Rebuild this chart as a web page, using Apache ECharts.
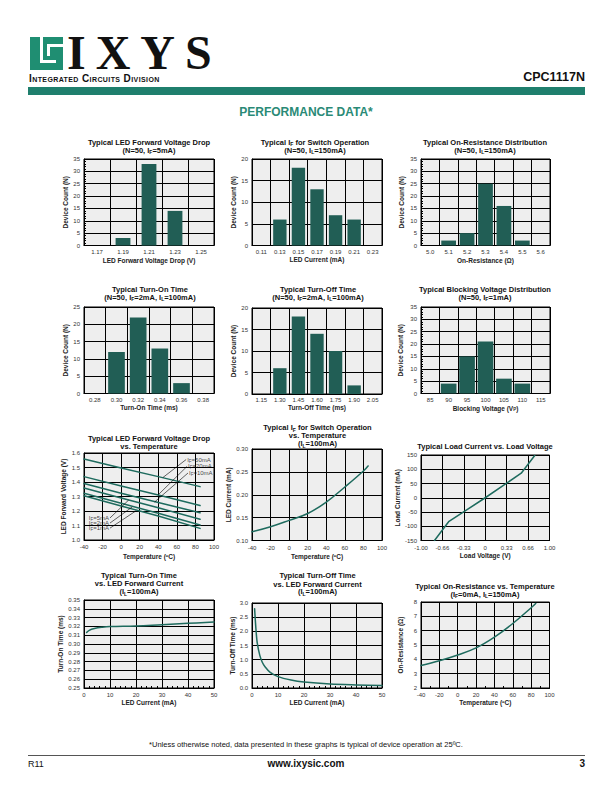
<!DOCTYPE html>
<html><head><meta charset="utf-8">
<script src="https://cdn.jsdelivr.net/npm/echarts@6/dist/echarts.min.js"></script>
<style>
body{margin:0;background:#fff;}
#page{position:relative;width:612px;height:792px;overflow:hidden;font-family:'Liberation Sans',Arial,Helvetica,sans-serif;color:#111;}
#chart{position:absolute;left:0;top:0;width:612px;height:792px;}
.abs{position:absolute;white-space:nowrap;}
</style></head><body>
<div id="page">
<div id="chart"></div>
<div class="abs" style="left:30px;top:37px;width:33px;height:33px;background:#1f8e72;"></div>
<div class="abs" style="left:40px;top:37px;width:3px;height:26px;background:#fff;"></div>
<div class="abs" style="left:40px;top:60px;width:16px;height:3px;background:#fff;"></div>
<div class="abs" style="left:47px;top:44px;width:16px;height:3px;background:#fff;"></div>
<div class="abs" style="left:47px;top:44px;width:3px;height:12px;background:#fff;"></div>
<div class="abs" style="left:67px;top:36px;height:34px;line-height:34px;font:bold 48px/34px 'Liberation Serif','Times New Roman',serif;letter-spacing:10px;color:#111;">IXYS</div>
<div class="abs" style="left:29px;top:73px;font:bold 10px 'Liberation Sans',Arial,sans-serif;font-variant:small-caps;letter-spacing:0.4px;">Integrated Circuits Division</div>
<div class="abs" style="right:27px;top:70px;font:bold 12.5px 'Liberation Sans',Arial,sans-serif;">CPC1117N</div>
<div class="abs" style="left:28px;top:87px;width:557px;height:8px;background:#1f7f6d;"></div>
<div class="abs" style="left:0;width:612px;text-align:center;top:105px;font:bold 12px 'Liberation Sans',Arial,sans-serif;color:#2a8a76;">PERFORMANCE DATA*</div>
<div class="abs" style="left:0;width:612px;text-align:center;top:740px;font:7.5px 'Liberation Sans',Arial,sans-serif;">*Unless otherwise noted, data presented in these graphs is typical of device operation at 25ºC.</div>
<div class="abs" style="left:28px;top:755px;width:557px;height:1px;background:#555;"></div>
<div class="abs" style="left:28px;top:759px;font:9px 'Liberation Sans',Arial,sans-serif;">R11</div>
<div class="abs" style="left:0;width:612px;text-align:center;top:758px;font:bold 10px 'Liberation Sans',Arial,sans-serif;">www.ixysic.com</div>
<div class="abs" style="right:27px;top:758px;font:bold 10px 'Liberation Sans',Arial,sans-serif;">3</div>
</div>
<script>
// ---------- data ----------
const h1Cats = ['1.17','1.19','1.21','1.23','1.25'];
const h1Vals = [0,3,33,14,0];
const h2Cats = ['0.11','0.13','0.15','0.17','0.19','0.21','0.23'];
const h2Vals = [0,6,18,13,7,6,0];
const h3Cats = ['5.0','5.1','5.2','5.3','5.4','5.5','5.6'];
const h3Vals = [0,2,5,25,16,2,0];
const h4Cats = ['0.28','0.30','0.32','0.34','0.36','0.38'];
const h4Vals = [0,12,22,13,3,0];
const h5Cats = ['1.15','1.30','1.45','1.60','1.75','1.90','2.05'];
const h5Vals = [0,6,18,14,10,2,0];
const h6Cats = ['85','90','95','100','105','110','115'];
const h6Vals = [0,4,15,21,6,4,0];

const vfTemp = [-40, 0, 40, 85];
const vf50mA = [1.558, 1.497, 1.437, 1.368];
const vf20mA = [1.437, 1.373, 1.310, 1.238];
const vf10mA = [1.390, 1.323, 1.258, 1.188];
const vf5mA  = [1.358, 1.290, 1.222, 1.143];
const vf2mA  = [1.323, 1.253, 1.184, 1.103];
const vf1mA  = [1.305, 1.235, 1.165, 1.080];
const vfLabelNames = ['50mA','20mA','10mA','5mA','2mA','1mA'];
const vfLabelAt = [[70,1.555],[71,1.508],[72,1.462],[-12,1.152],[-12,1.117],[-12,1.082]];
const vfLeaderTo = [[45,1.431],[40,1.312],[36,1.262],[8,1.275],[12,1.228],[16,1.201]];

const ifTemp = [-40,-20,0,20,40,60,80,85];
const ifVals = [0.119,0.13,0.144,0.159,0.184,0.217,0.252,0.263];

const loadV = [-0.79,-0.57,0,0.56,0.77];
const loadI = [-150,-84,0,86,148];
const loadVTicks = ['-1.00','-0.66','-0.33','0','0.33','0.66','1.00'];

const tonIf = [1,2,4,7,10,20,30,40,50];
const tonVals = [0.313,0.3155,0.3175,0.319,0.3198,0.3205,0.322,0.3235,0.325];

const toffIf = [1,1.5,2,3,4,5,7,10,15,20,30,40,50];
const toffVals = [2.8,2.1,1.6,1.15,0.9,0.75,0.55,0.4,0.28,0.21,0.14,0.11,0.09];

const ronTemp = [-40,-20,0,20,40,60,80,85];
const ronVals = [3.57,3.9,4.3,4.8,5.55,6.5,7.6,7.9];

// ---------- styling ----------
const FONT = "'Liberation Sans', Arial, Helvetica, sans-serif";
const BAR = '#215e55';
const LINE = '#1e6b5e';
const PLOTBG = '#eeeeee';
const RICH = {
  b:{fontSize:7.5,fontWeight:'bold',fontFamily:FONT,color:'#111',lineHeight:9},
  s:{fontSize:5,fontWeight:'bold',fontFamily:FONT,color:'#111',verticalAlign:'bottom',lineHeight:5},
  n:{fontSize:6,fontFamily:FONT,color:'#111',lineHeight:8},
  ns:{fontSize:4.5,fontFamily:FONT,color:'#111',verticalAlign:'bottom',lineHeight:4},
  a:{fontSize:6.5,fontWeight:'bold',fontFamily:FONT,color:'#222',lineHeight:8},
  as:{fontSize:4.5,fontWeight:'bold',fontFamily:FONT,color:'#222',verticalAlign:'bottom',lineHeight:4}
};

const grids=[], xAxes=[], yAxes=[], series=[], graphics=[];

function title(cx, cy, text){
  graphics.push({type:'text', x:cx, y:cy, style:{text:text, rich:RICH, align:'center', verticalAlign:'middle', fontSize:7.5, fontWeight:'bold', fontFamily:FONT, fill:'#111'}});
}
function axisBase(o){
  return {
    gridIndex:o.i, type:o.type, name:o.name, nameLocation:'middle', nameGap:o.nameGap,
    nameTextStyle:{fontSize:6.5, fontWeight:'bold', color:'#222', fontFamily:FONT, rich:RICH},
    min:o.min, max:o.max, interval:o.interval, data:o.data, boundaryGap:o.type==='category',
    axisLine:{show:true, onZero:false, lineStyle:{color:'#000', width:1}},
    axisTick:{show:!!o.tick, inside:true, length:3, lineStyle:{color:'#000'}, interval:0},
    minorTick:{show:!!o.minor, splitNumber:o.minor||5, length:2, lineStyle:{color:'#000'}},
    axisLabel:{fontSize:6, color:'#333', fontFamily:FONT, margin:o.margin, interval:0, formatter:o.fmt, showMinLabel:true, showMaxLabel:true},
    splitLine:{show:true, interval:0, lineStyle:{color:'#000', width:1}}
  };
}
function panel(box){
  const i = grids.length;
  grids.push({left:box[0], top:box[1], width:box[2], height:box[3], show:true, backgroundColor:PLOTBG, borderColor:'#000', borderWidth:1});
  return i;
}
function histogram(box, cats, vals, ymax, minor, xname, ygap, xgap, bw){
  const i = panel(box);
  xAxes.push(axisBase({i, type:'category', data:cats, name:xname, nameGap:xgap, margin:3}));
  yAxes.push(axisBase({i, type:'value', min:0, max:ymax, interval:5, name:'Device Count (N)', nameGap:ygap, margin:4, tick:true, minor:minor?5:0}));
  series.push({type:'bar', xAxisIndex:i, yAxisIndex:i, data:vals, barWidth:bw, itemStyle:{color:BAR}, silent:true});
  return i;
}
function pairs(xs, ys){ return xs.map((x,k)=>[x, ys[k]]); }
function lineSeries(i, xs, ys, smooth){
  series.push({type:'line', xAxisIndex:i, yAxisIndex:i, data:pairs(xs,ys), showSymbol:false, smooth:smooth, lineStyle:{color:LINE, width:1.5, cap:'round', join:'round'}, silent:true});
}

// Row 1
histogram([84,159,130,86.5], h1Cats, h1Vals, 35, true, 'LED Forward Voltage Drop (V)', 15, 11.5, '57%');
title(149,142,'{b|Typical LED Forward Voltage Drop}');
title(149,150,'{b|(N=50, I}{s|F}{b|=5mA)}');

histogram([252,159,130,86.5], h2Cats, h2Vals, 20, false, 'LED Current (mA)', 11, 10, '72%');
title(315,142,'{b|Typical I}{s|F}{b| for Switch Operation}');
title(315,150,'{b|(N=50, I}{s|L}{b|=150mA)}');

histogram([421,159,129,86.5], h3Cats, h3Vals, 35, true, 'On-Resistance (Ω)', 16.5, 11.5, '80%');
title(485,142,'{b|Typical On-Resistance Distribution}');
title(485,150,'{b|(N=50, I}{s|L}{b|=150mA)}');

// Row 2
histogram([84,307,130,86.5], h4Cats, h4Vals, 25, false, 'Turn-On Time (ms)', 15.5, 10.5, '77%');
title(150,289,'{b|Typical Turn-On Time}');
title(150,297,'{b|(N=50, I}{s|F}{b|=2mA, I}{s|L}{b|=100mA)}');

histogram([252,308,130,86], h5Cats, h5Vals, 20, false, 'Turn-Off Time (ms)', 11, 10, '72%');
title(318,289,'{b|Typical Turn-Off Time}');
title(318,297,'{b|(N=50, I}{s|F}{b|=2mA, I}{s|L}{b|=100mA)}');

histogram([421,307,129,86.5], h6Cats, h6Vals, 35, true, '{a|Blocking Voltage (V}{as|P}{a|)}', 17, 10.5, '85%');
title(485,289,'{b|Typical Blocking Voltage Distribution}');
title(485,297,'{b|(N=50, I}{s|F}{b|=1mA)}');

// Row 3 - chart 7
let i7 = panel([84,453,130,87]);
xAxes.push(axisBase({i:i7, type:'value', min:-40, max:100, interval:20, name:'Temperature (ºC)', nameGap:12.5, margin:4}));
yAxes.push(axisBase({i:i7, type:'value', min:1.0, max:1.6, interval:0.1, name:'LED Forward Voltage (V)', nameGap:17, margin:4, fmt:v=>v.toFixed(1)}));
[vf50mA,vf20mA,vf10mA,vf5mA,vf2mA,vf1mA].forEach(arr=>lineSeries(i7, vfTemp, arr, false));
vfLabelAt.forEach((p,k)=>{
  series.push({type:'line', xAxisIndex:i7, yAxisIndex:i7, data:[p, vfLeaderTo[k]], showSymbol:false, lineStyle:{color:'#000', width:0.6}, silent:true});
});
series.push({type:'scatter', xAxisIndex:i7, yAxisIndex:i7, symbolSize:0, silent:true,
  data:vfLabelAt.map((p,k)=>({value:p, label:{position:k<3?'right':'left', distance:1}})),
  label:{show:true, formatter:(pr)=>'{n|I}{ns|F}{n|='+vfLabelNames[pr.dataIndex]+'}', rich:RICH}});
title(149,438,'{b|Typical LED Forward Voltage Drop}');
title(149,446.5,'{b|vs. Temperature}');

// chart 8
let i8 = panel([252,449,130,91.5]);
xAxes.push(axisBase({i:i8, type:'value', min:-40, max:100, interval:20, name:'Temperature (ºC)', nameGap:12, margin:4}));
yAxes.push(axisBase({i:i8, type:'value', min:0.10, max:0.30, interval:0.05, name:'LED Current (mA)', nameGap:16, margin:4, fmt:v=>v.toFixed(2)}));
lineSeries(i8, ifTemp, ifVals, 0.4);
title(317.5,427.5,'{b|Typical I}{s|F}{b| for Switch Operation}');
title(317.5,435.5,'{b|vs. Temperature}');
title(317.5,443.5,'{b|(I}{s|L}{b|=100mA)}');

// chart 9
let i9 = panel([421,455,128.5,85.5]);
xAxes.push(axisBase({i:i9, type:'value', min:-1, max:1, interval:1/3, name:'Load Voltage (V)', nameGap:11, margin:4, fmt:v=>loadVTicks[Math.round((v+1)*3)]}));
yAxes.push(axisBase({i:i9, type:'value', min:-150, max:150, interval:50, name:'Load Current (mA)', nameGap:17, margin:4}));
lineSeries(i9, loadV, loadI, false);
title(485,446,'{b|Typical Load Current vs. Load Voltage}');

// Row 4 - chart 10
let i10 = panel([84,600,130,88]);
xAxes.push(axisBase({i:i10, type:'value', min:0, max:50, interval:10, name:'LED Current (mA)', nameGap:10, margin:4, tick:true, minor:5}));
yAxes.push(axisBase({i:i10, type:'value', min:0.25, max:0.35, interval:0.01, name:'Turn-On Time (ms)', nameGap:19, margin:4, fmt:v=>v.toFixed(2)}));
lineSeries(i10, tonIf, tonVals, 0.4);
title(139,575,'{b|Typical Turn-On Time}');
title(139,583.3,'{b|vs. LED Forward Current}');
title(139,591.7,'{b|(I}{s|L}{b|=100mA)}');

// chart 11
let i11 = panel([252,603,130,85]);
xAxes.push(axisBase({i:i11, type:'value', min:0, max:50, interval:10, name:'LED Current (mA)', nameGap:10, margin:4, tick:true, minor:5}));
yAxes.push(axisBase({i:i11, type:'value', min:0, max:3, interval:0.5, name:'Turn-Off Time (ms)', nameGap:12, margin:4, fmt:v=>v.toFixed(1)}));
lineSeries(i11, toffIf, toffVals, 0.3);
title(317.5,575.7,'{b|Typical Turn-Off Time}');
title(317.5,584,'{b|vs. LED Forward Current}');
title(317.5,591.7,'{b|(I}{s|L}{b|=100mA)}');

// chart 12
let i12 = panel([421,602,128.5,86]);
xAxes.push(axisBase({i:i12, type:'value', min:-40, max:100, interval:20, name:'Temperature (ºC)', nameGap:10, margin:4, tick:true, minor:2}));
yAxes.push(axisBase({i:i12, type:'value', min:2, max:8, interval:1, name:'On-Resistance (Ω)', nameGap:17, margin:4}));
lineSeries(i12, ronTemp, ronVals, 0.4);
title(485,586.7,'{b|Typical On-Resistance vs. Temperature}');
title(485,594.3,'{b|(I}{s|F}{b|=0mA, I}{s|L}{b|=150mA)}');

const chart = echarts.init(document.getElementById('chart'), null, {renderer:'svg'});
chart.setOption({animation:false, backgroundColor:'transparent', grid:grids, xAxis:xAxes, yAxis:yAxes, series:series, graphic:graphics});
</script>
</body></html>
